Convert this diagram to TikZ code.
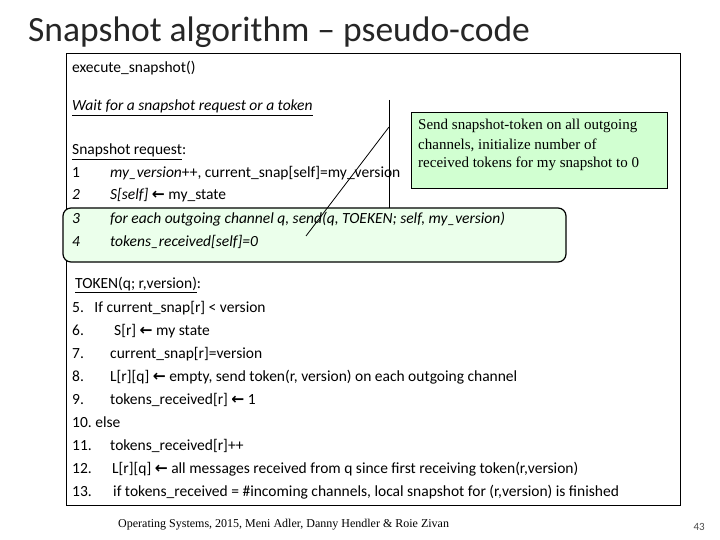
\documentclass[tikz,border=0pt]{standalone}
\usepackage{fontspec}
\setmainfont{Carlito}
\newfontfamily\serifA{Liberation Serif}
\newfontfamily\symA{DejaVu Sans}
\newcommand{\la}{{\symA\bfseries ←}}
\begin{document}
\begin{tikzpicture}[x=1pt,y=-1pt,
  code/.style={anchor=base west,inner sep=0pt,font=\fontsize{15.5}{17}\selectfont},
  note/.style={anchor=base west,inner sep=0pt,font=\serifA\fontsize{15}{17}\selectfont}]
\useasboundingbox (0,0) rectangle (720,540);
\fill[white] (0,0) rectangle (720,540);
\node[anchor=base west,inner sep=0pt,font=\fontsize{35.5}{38}\selectfont,text=black!85] (title) at (28,42) {Snapshot algorithm – pseudo-code};
\draw[thin] (66,53) rectangle (680,505);
\draw[very thick,rounded corners=8pt,fill=green!8] (63,208) rectangle (566,262);
\node[draw,thick,fill=green!18,minimum width=256pt,minimum height=76pt,anchor=north west] (call) at (411,112) {};
\coordinate (v1) at (389,100);
\coordinate (v2) at (389,208);
\coordinate (vm) at (389,127);
\coordinate (tip) at (306,236);
\draw[thick] (v1) -- (v2);
\draw[thick] (vm) -- (tip);
\node[note] (n1) at (418,130) {Send snapshot-token on all outgoing};
\node[note] (n2) at (418,150) {channels, initialize number of};
\node[note] (n3) at (418,168) {received tokens for my snapshot to 0};
\node[code] (a) at (72,73) {execute\_snapshot()};
\node[code] (b) at (72,111) {\underline{\itshape Wait for a snapshot request or a token}};
\node[code] (c) at (72,155) {\underline{Snapshot request}:};
\node[code] (l1n) at (72,178) {1};
\node[code] (l1) at (110,178) {\itshape my\_version\upshape++, current\_snap[self]=my\_version};
\node[code] (l2n) at (72,200) {\itshape 2};
\node[code] (l2) at (110,200) {\itshape S[self]\upshape\ \la\ my\_state};
\node[code] (l3n) at (72,223) {\itshape 3};
\node[code] (l3) at (110,223) {\itshape for each outgoing channel q, send(q, TOEKEN; self, my\_version)};
\node[code] (l4n) at (72,246) {\itshape 4};
\node[code] (l4) at (110,246) {\itshape tokens\_received[self]=0};
\node[code] (t) at (75,288) {\underline{TOKEN(q; r,version)}:};
\node[code] (m5) at (72,312) {5.\ \ \ If current\_snap[r] < version};
\node[code] (m6n) at (72,335) {6.};\node[code] (m6) at (114,335) {S[r] \la\ my state};
\node[code] (m7n) at (72,358) {7.};\node[code] (m7) at (110,358) {current\_snap[r]=version};
\node[code] (m8n) at (72,381) {8.};\node[code] (m8) at (110,381) {L[r][q] \la\ empty, send token(r, version) on each outgoing channel};
\node[code] (m9n) at (72,404) {9.};\node[code] (m9) at (110,404) {tokens\_received[r] \la\ 1};
\node[code] (m10) at (72,427) {10.\ else};
\node[code] (m11n) at (72,450) {11.};\node[code] (m11) at (110,450) {tokens\_received[r]++};
\node[code] (m12n) at (72,473) {12.};\node[code] (m12) at (112,473) {L[r][q] \la\ all messages received from q since first receiving token(r,version)};
\node[code] (m13n) at (72,496) {13.};\node[code] (m13) at (113,496) {if tokens\_received = \#incoming channels, local snapshot for (r,version) is finished};
\node[anchor=base west,inner sep=0pt,font=\serifA\fontsize{12}{14}\selectfont] (foot) at (118,527) {Operating Systems, 2015, Meni Adler, Danny Hendler \& Roie Zivan};
\node[anchor=base east,inner sep=0pt,font=\fontsize{11}{13}\selectfont,text=black!70] (pg) at (705,530) {43};
\end{tikzpicture}
\end{document}
